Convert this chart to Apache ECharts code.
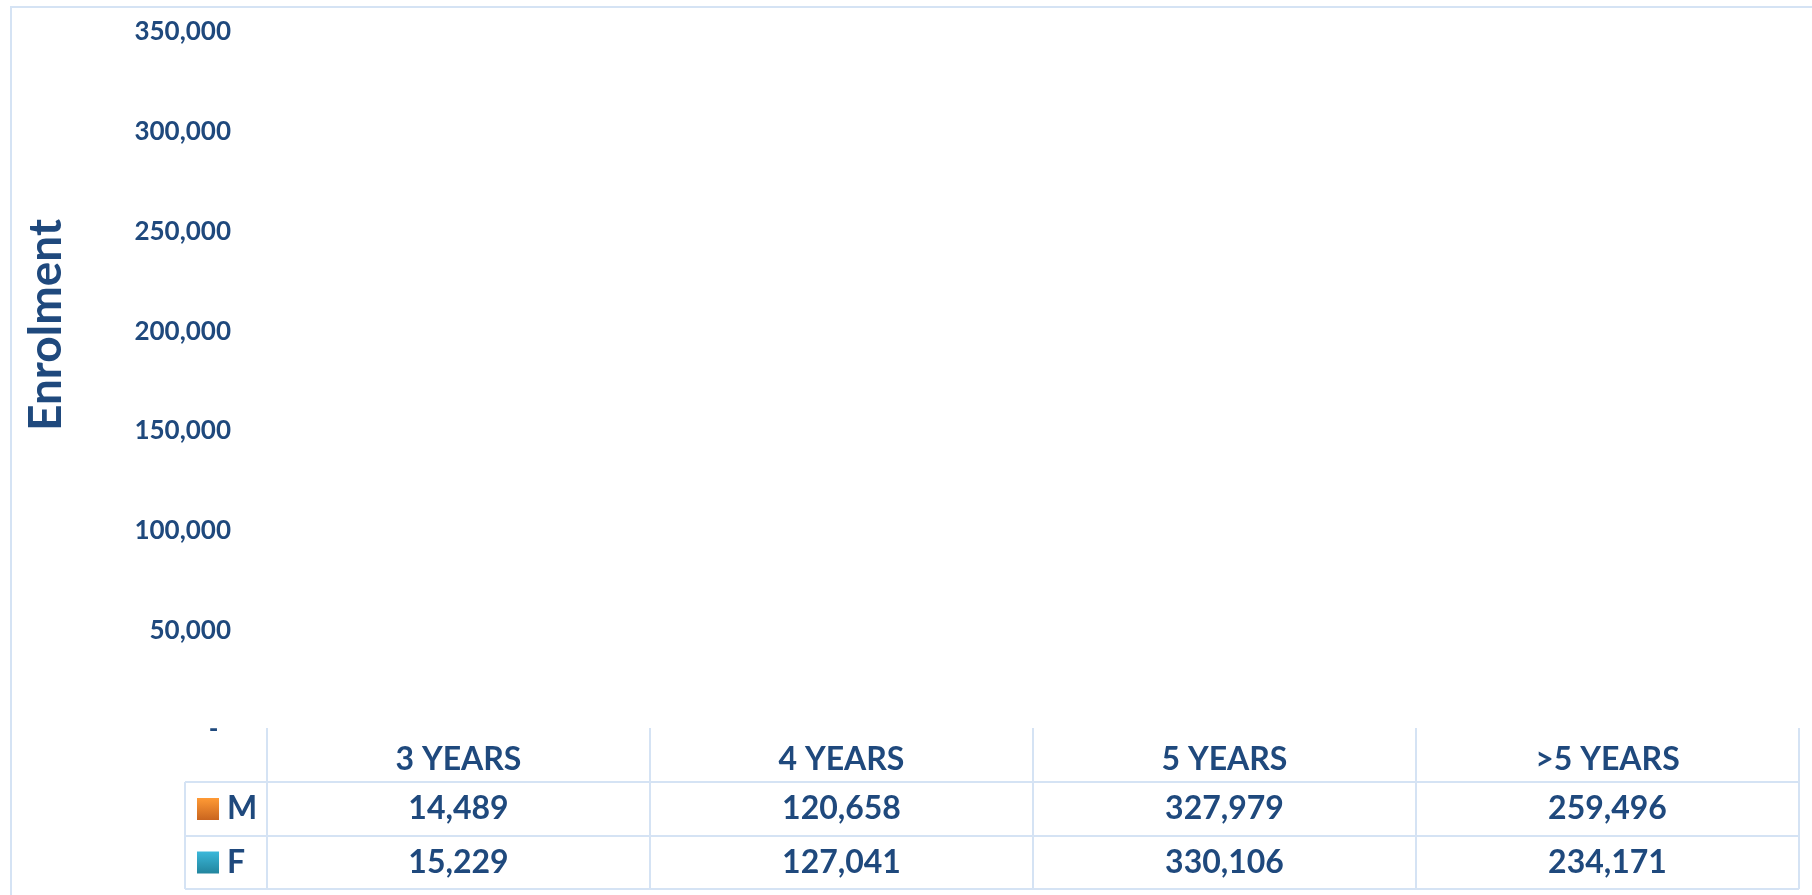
<!DOCTYPE html>
<html>
<head>
<meta charset="utf-8">
<title>Enrolment by age</title>
<script src="https://cdn.jsdelivr.net/npm/echarts@6/dist/echarts.min.js"></script>
<style>
  html, body { margin: 0; padding: 0; background: #fff; }
  #chart { width: 1812px; height: 895px; }
</style>
</head>
<body>
<div id="chart"></div>
<script>
// data
var categories = ['3 YEARS', '4 YEARS', '5 YEARS', '>5 YEARS']
var male = [14489, 120658, 327979, 259496]
var female = [15229, 127041, 330106, 234171]
var seriesNames = ['M', 'F']
var yMin = 0
var yMax = 350000
var yStep = 50000

var textColor = '#1F497D'
var lineColor = '#D5E3F4'
var font = 'Lato, "Open Sans", sans-serif'

// legend keys (gradient squares like the excel ones)
var keyColors = [
  new echarts.graphic.LinearGradient(0, 0, 0, 1, [{ offset: 0, color: '#FF9A35' }, { offset: 1, color: '#C9651F' }]),
  new echarts.graphic.LinearGradient(0, 0, 0, 1, [{ offset: 0, color: '#3BB8DA' }, { offset: 1, color: '#22859E' }])
]

function fmt (v) {
  return v.toString().replace(/\B(?=(\d{3})+(?!\d))/g, ',')
}

var myChart = echarts.init(document.getElementById('chart'))
myChart.setOption({
  animation: false,
  backgroundColor: '#fff',
  grid: {
    left: 267,
    right: 13,
    top: 32,
    bottom: 165
  },
  xAxis: {
    type: 'category',
    data: categories,
    axisLine: { show: false },
    axisTick: { show: false },
    axisLabel: {
      interval: 0,
      margin: 14,
      color: textColor,
      fontFamily: font,
      fontWeight: 'bold',
      fontSize: 32,
      lineHeight: 32
    }
  },
  yAxis: {
    type: 'value',
    min: yMin,
    max: yMax,
    interval: yStep,
    name: 'Enrolment',
    nameLocation: 'middle',
    nameRotate: 90,
    nameGap: 198,
    nameTextStyle: {
      color: textColor,
      fontFamily: font,
      fontWeight: 'bold',
      fontSize: 46,
      padding: [0, 0, 0, 112]
    },
    axisLine: { show: false },
    axisTick: { show: false },
    splitLine: { show: false },
    axisLabel: {
      margin: 36,
      color: textColor,
      fontFamily: font,
      fontWeight: 'bold',
      fontSize: 26,
      formatter: function (v) {
        return v === 0 ? '-  ' : fmt(v)
      }
    }
  },
  series: [
    {
      name: seriesNames[0],
      type: 'bar',
      data: male,
      silent: true,
      itemStyle: { color: keyColors[0], opacity: 0 }
    },
    {
      name: seriesNames[1],
      type: 'bar',
      data: female,
      silent: true,
      itemStyle: { color: keyColors[1], opacity: 0 }
    }
  ]
})

// data table under the plot
function drawTable () {
  var rows = [male, female]
  var x0 = myChart.convertToPixel({ xAxisIndex: 0 }, 0)
  var x1 = myChart.convertToPixel({ xAxisIndex: 0 }, 1)
  var half = (x1 - x0) / 2
  var plotLeft = x0 - half
  var plotRight = myChart.convertToPixel({ xAxisIndex: 0 }, categories.length - 1) + half
  var tableTop = 728
  var rowLines = [782, 836, 889]
  var tableLeft = 185
  var els = []

  // outer chart border
  els.push({
    type: 'rect',
    shape: { x: 11, y: 7, width: 1840, height: 920 },
    style: { fill: 'none', stroke: lineColor, lineWidth: 2 },
    silent: true
  })

  // horizontal rules
  rowLines.forEach(function (y) {
    els.push({
      type: 'line',
      shape: { x1: tableLeft, y1: y, x2: plotRight, y2: y },
      style: { stroke: lineColor, lineWidth: 2 },
      silent: true
    })
  })
  // left edge of the legend column
  els.push({
    type: 'line',
    shape: { x1: tableLeft, y1: rowLines[0], x2: tableLeft, y2: rowLines[2] },
    style: { stroke: lineColor, lineWidth: 2 },
    silent: true
  })
  // column separators
  for (var i = 0; i <= categories.length; i++) {
    var x = plotLeft + i * 2 * half
    els.push({
      type: 'line',
      shape: { x1: x, y1: tableTop, x2: x, y2: rowLines[2] },
      style: { stroke: lineColor, lineWidth: 2 },
      silent: true
    })
  }

  // rows: legend key, name, values
  rows.forEach(function (vals, r) {
    var cy = (rowLines[r] + rowLines[r + 1]) / 2
    els.push({
      type: 'rect',
      shape: { x: 197, y: cy - 11, width: 22, height: 22 },
      style: { fill: keyColors[r] },
      silent: true
    })
    els.push({
      type: 'text',
      x: 227,
      y: cy,
      style: {
        text: seriesNames[r],
        fill: textColor,
        font: 'bold 32px ' + font,
        align: 'left',
        verticalAlign: 'middle'
      },
      silent: true
    })
    vals.forEach(function (v, c) {
      els.push({
        type: 'text',
        x: myChart.convertToPixel({ xAxisIndex: 0 }, c),
        y: cy,
        style: {
          text: fmt(v),
          fill: textColor,
          font: 'bold 32px ' + font,
          align: 'center',
          verticalAlign: 'middle'
        },
        silent: true
      })
    })
  })

  myChart.setOption({ graphic: els })
}
drawTable()
</script>
</body>
</html>
